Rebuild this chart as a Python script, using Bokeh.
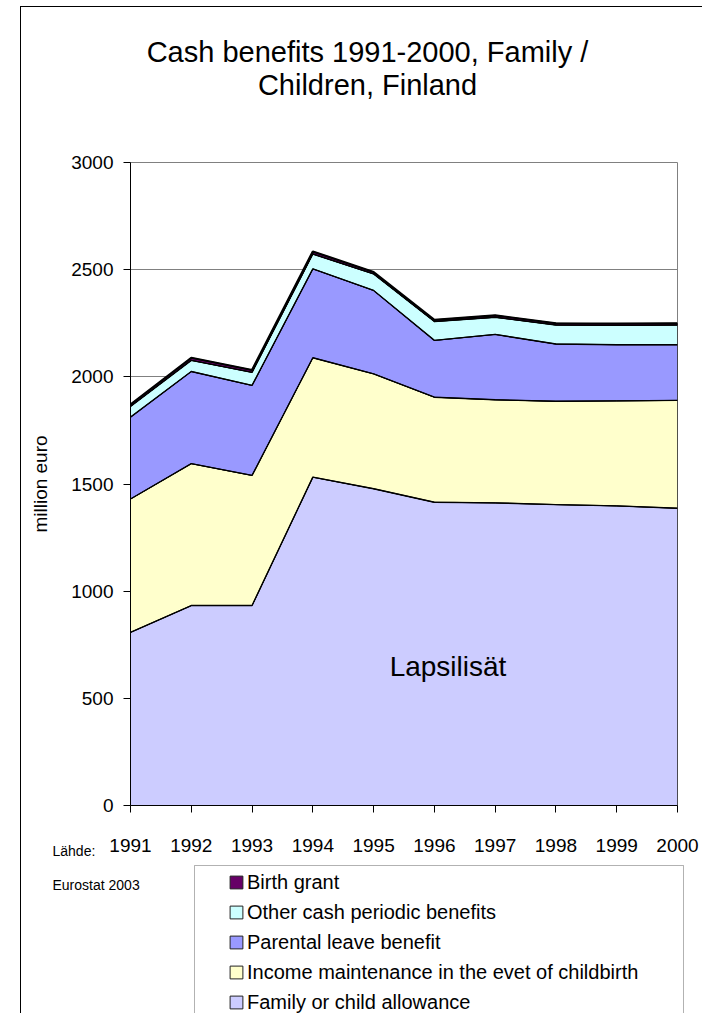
import numpy as np
from bokeh.plotting import figure
from bokeh.layouts import column
from bokeh.models import (Range1d, FixedTicker, Legend, LegendItem, Label,
                          BoxAnnotation)
from bokeh.embed import file_html
from bokeh.resources import INLINE

# ---------------- data ----------------
years = [1991, 1992, 1993, 1994, 1995, 1996, 1997, 1998, 1999, 2000]
family = [808, 933, 933, 1532, 1478, 1415, 1412, 1404, 1398, 1387]
income = [622, 662, 607, 557, 536, 490, 481, 482, 490, 503]
parental = [382, 430, 420, 415, 389, 265, 305, 267, 262, 260]
other = [50, 52, 61, 69, 77, 88, 80, 89, 90, 92]
birth = [9, 12, 11, 12, 9, 8, 9, 8, 8, 8]

series_names = ["Family or child allowance",
                "Income maintenance in the evet of childbirth",
                "Parental leave benefit",
                "Other cash periodic benefits",
                "Birth grant"]
series_colors = ["#CCCCFF", "#FFFFCC", "#9999FF", "#CCFFFF", "#660066"]
y_ticks = [0, 500, 1000, 1500, 2000, 2500, 3000]
title_lines = ["Cash benefits 1991-2000, Family /", "Children, Finland"]
y_label = "million euro"
note_lines = ["Lähde:", "Eurostat 2003"]
area_note = "Lapsilisät"

FONT = "Liberation Sans"

# ---------------- layout (page pixels) ----------------
OX, OY = 21, 7                  # content origin on the page (inside the border)
PW = 702 - OX                   # width of every panel
FL, FR, FT, FB = 130, 677, 162, 805   # plot frame edges on the page
TOP_END = 150                   # title strip: OY .. TOP_END
MAIN_END = 862                  # main chart: TOP_END .. MAIN_END
BOT_START = 830                 # bottom strip (overlaps the main one, transparent)
PAGE_H = 1013
BASE_FIX = 0.41                 # baseline correction, in em


def strip(y0, y1, transparent=False):
    f = figure(width=PW, height=y1 - y0, x_range=Range1d(OX, 702),
               y_range=Range1d(y1, y0), x_axis_type=None, y_axis_type=None,
               output_backend="svg", toolbar_location=None, min_border=0,
               outline_line_color=None, frame_align=False)
    f.grid.visible = False
    if transparent:
        f.background_fill_alpha = 0
        f.border_fill_alpha = 0
    return f


def text_label(fig, x, base, txt, size, align):
    fig.add_layout(Label(x=x, y=base, text=txt, text_align=align,
                         text_baseline="alphabetic", text_font=FONT,
                         text_font_size=f"{size}px", text_color="black"))


# ---------------- title strip ----------------
top = strip(OY, TOP_END)
for txt, base in zip(title_lines, (63, 96)):
    text_label(top, 367, base - BASE_FIX * 29, txt, 29, "center")

# ---------------- main chart ----------------
X0, X1 = years[0], years[-1]
Y0, Y1 = y_ticks[0], y_ticks[-1]


def dx(px):
    return X0 + (px - FL) * (X1 - X0) / (FR - FL)


def dy(py):
    return Y0 + (FB - py) * (Y1 - Y0) / (FB - FT)


p = figure(width=PW, height=MAIN_END - TOP_END,
           x_range=Range1d(X0, X1), y_range=Range1d(Y0, Y1),
           output_backend="svg", toolbar_location=None,
           min_border_left=FL - OX, min_border_right=702 - FR,
           min_border_top=FT - TOP_END, min_border_bottom=MAIN_END - FB,
           background_fill_color="white", border_fill_color="white",
           outline_line_color="#808080", frame_align=False)

p.xgrid.visible = False
p.ygrid.ticker = FixedTicker(ticks=y_ticks)
p.ygrid.grid_line_color = "#808080"
p.ygrid.grid_line_width = 1

p.xaxis.ticker = FixedTicker(ticks=years)
p.yaxis.ticker = FixedTicker(ticks=y_ticks)
for ax in (p.xaxis, p.yaxis):
    ax.axis_line_color = "black"
    ax.axis_line_width = 1
    ax.major_tick_line_color = "black"
    ax.major_tick_in = 0
    ax.major_tick_out = 7
    ax.minor_tick_line_color = None
    ax.major_label_text_font = FONT
    ax.major_label_text_font_size = "19px"
    ax.major_label_text_color = "black"
p.yaxis.major_label_standoff = 10
p.xaxis.major_label_standoff = 26
p.yaxis.axis_label = y_label
p.yaxis.axis_label_text_font = FONT
p.yaxis.axis_label_text_font_size = "19px"
p.yaxis.axis_label_text_font_style = "normal"
p.yaxis.axis_label_text_color = "black"
p.yaxis.axis_label_standoff = 17

series = [family, income, parental, other, birth]
tops = np.cumsum(np.array(series, dtype=float), axis=0)
bottoms = np.vstack([np.zeros(len(years)), tops[:-1]])
band_xs = list(years) + list(years[::-1])
band_ys = [list(tops[i]) + list(bottoms[i][::-1]) for i in range(len(series))]
for i in range(len(series_names)):
    p.patch(band_xs, band_ys[i], fill_color=series_colors[i], line_color="black",
            line_width=1)
for i in range(len(series_names)):
    p.line(years, list(tops[i]), line_color="black",
           line_width=2.2 if i == len(series_names) - 1 else 1.4)

p.add_layout(Label(x=dx(447.5), y=dy(677 - BASE_FIX * 28), text=area_note,
                   text_align="center", text_baseline="alphabetic",
                   text_font=FONT, text_font_size="28px", text_color="black"))

# ---------------- bottom strip: source note and legend ----------------
bot = strip(BOT_START, PAGE_H, transparent=True)
for txt, base in zip(note_lines, (856, 890)):
    text_label(bot, 52, base - BASE_FIX * 14, txt, 14, "left")

# legend swatches: hidden copies of the bands carrying the series styles
swatches = [bot.patch(band_xs, band_ys[i], fill_color=series_colors[i],
                      line_color="#222222", line_width=1, visible=False)
            for i in range(len(series_names))]
items = [LegendItem(label=series_names[i], renderers=[swatches[i]])
         for i in range(len(series_names) - 1, -1, -1)]
legend = Legend(items=items, location=(229 - 6 - OX + 5, -1),
                label_text_font=FONT, label_text_font_size="20px",
                label_text_color="black",
                glyph_width=16, glyph_height=16, label_standoff=3,
                label_height=24, spacing=6, padding=6, margin=0,
                border_line_color=None, background_fill_alpha=0,
                inactive_fill_alpha=0)
bot.add_layout(legend, "center")
bot.add_layout(BoxAnnotation(left=194, right=683, top=865, bottom=PAGE_H + 30,
                             fill_alpha=0, line_color="black", line_width=1))

layout = column(top, p, bot, spacing=0, margin=(OY - 1, 0, 0, OX - 1),
                styles={"border-left": "1px solid black",
                        "border-top": "1px solid black"})
bot.margin = (BOT_START - MAIN_END, 0, 0, 0)

open("out.html", "w").write(file_html(layout, INLINE))
